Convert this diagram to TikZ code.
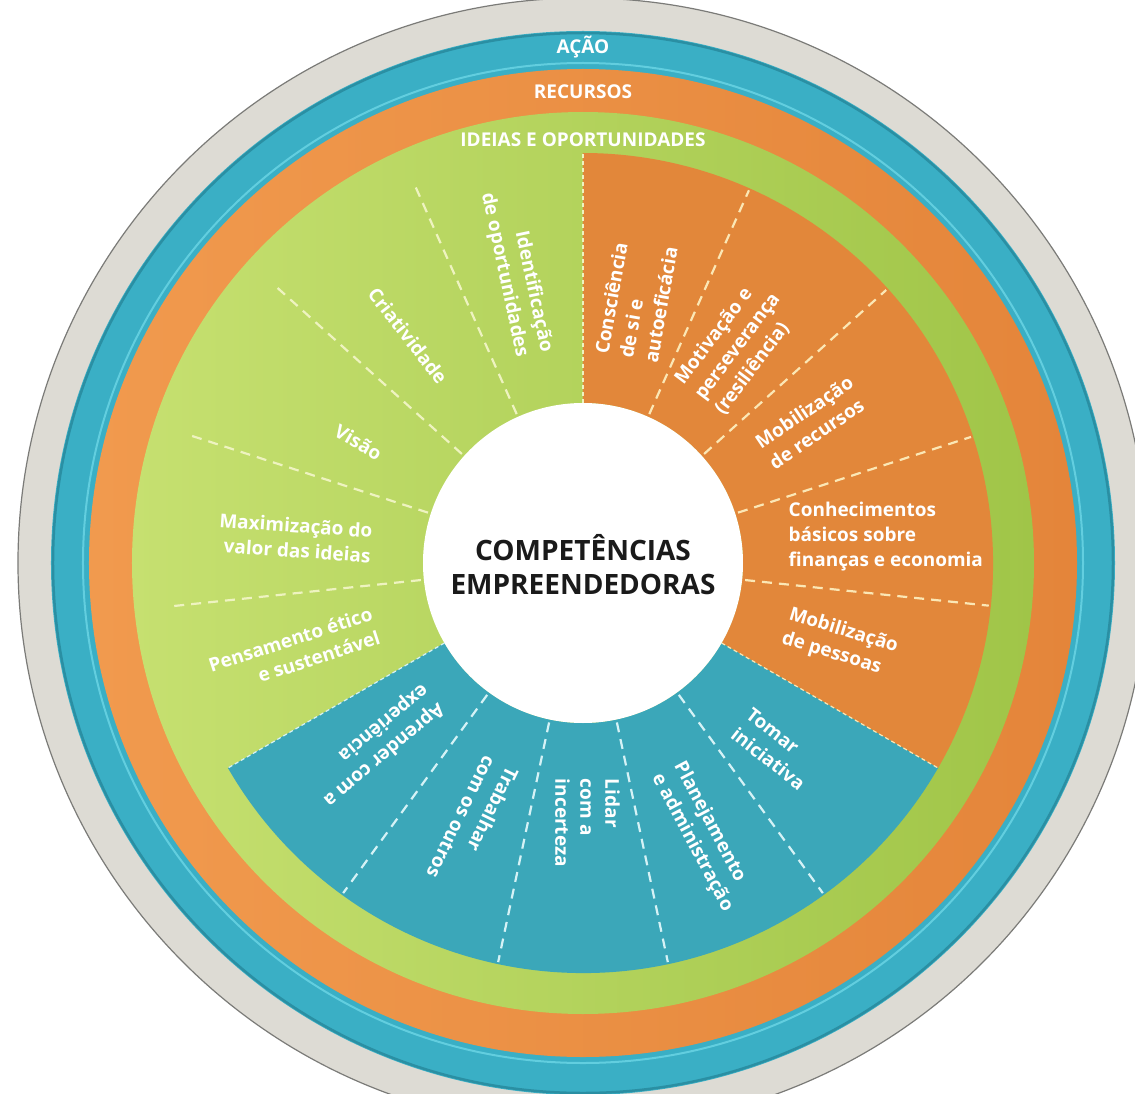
\documentclass[tikz,border=0pt]{standalone}
\usepackage{fontspec}
\setmainfont{Open Sans}
\definecolor{ringgray}{HTML}{DDDBD4}
\definecolor{ringgrayedge}{HTML}{7B7B78}
\definecolor{ringteal}{HTML}{3AAFC5}
\definecolor{ringtealhi}{HTML}{62CEDF}
\definecolor{ringtealdark}{HTML}{2A8FA3}
\definecolor{orangeL}{HTML}{F19A4E}
\definecolor{orangeR}{HTML}{E4853A}
\definecolor{greenL}{HTML}{C6E070}
\definecolor{greenR}{HTML}{A0C548}
\definecolor{secorange}{HTML}{E2873A}
\definecolor{secteal}{HTML}{3BA7B9}
\definecolor{dashgreen}{HTML}{EEF3C0}
\definecolor{dashorange}{HTML}{FBE7B5}
\definecolor{dashteal}{HTML}{D5F2F6}
\definecolor{centertext}{HTML}{1A1A1A}
\begin{document}
\begin{tikzpicture}[
  lbl/.style={text=white, font=\bfseries\fontsize{19}{25}\selectfont, inner sep=0pt},
  lblL/.style={lbl, align=left},
  lblR/.style={lbl, align=right},
  ringlbl/.style={text=white, font=\bfseries\fontsize{19}{22}\selectfont, inner sep=0pt},
  divline/.style={line width=2.2pt, dash pattern=on 10pt off 7pt},
  bordline/.style={line width=1.2pt, dash pattern=on 4pt off 3pt},
]
\useasboundingbox (-583pt,-530pt) rectangle (552pt,563pt);
\fill[white] (-583pt,-530pt) rectangle (552pt,563pt);

% outer rings
\fill[ringgray] (0,0) circle[radius=565pt];
\draw[ringgrayedge, line width=1.2pt] (0,0) circle[radius=565pt];
\fill[ringteal] (0,0) circle[radius=532pt];
\draw[ringtealdark, line width=2.5pt] (0,0) circle[radius=530pt];
\draw[ringtealhi, line width=2pt] (0,0) circle[radius=500pt];
\shade[left color=orangeL, right color=orangeR] (0,0) circle[radius=494pt];
\shade[left color=greenL, right color=greenR] (0,0) circle[radius=451pt];

% sectors
\fill[secorange] (90:160pt) arc[start angle=90, end angle=-30, radius=160pt]
  -- (-30:410pt) arc[start angle=-30, end angle=90, radius=410pt] -- cycle;
\fill[secteal] (-30:160pt) arc[start angle=-30, end angle=-150, radius=160pt]
  -- (-150:410pt) arc[start angle=-150, end angle=-30, radius=410pt] -- cycle;

% borders between the three groups
\draw[bordline, dashgreen] (90:160pt) -- (90:410pt);
\draw[bordline, dashorange] (-30:160pt) -- (-30:410pt);
\draw[bordline, dashteal] (-150:160pt) -- (-150:410pt);

% dividers
\foreach \a in {114,138,162,186}
  \draw[divline, dashgreen] (\a:163pt) -- (\a:414pt);
\foreach \a in {-6,18,42,66}
  \draw[divline, dashorange] (\a:163pt) -- (\a:408pt);
\foreach \a in {-54,-78,-102,-126}
  \draw[divline, dashteal] (\a:163pt) -- (\a:408pt);

% center
\fill[white] (0,0) circle[radius=160pt];
\node[text=centertext, font=\bfseries\fontsize{28}{34}\selectfont, align=center] (center) at (0,-2pt)
  {COMPETÊNCIAS\\EMPREENDEDORAS};

% ring labels
\node[ringlbl] (acao) at (0,516pt) {AÇÃO};
\node[ringlbl] (recursos) at (0,471pt) {RECURSOS};
\node[ringlbl] (ideias) at (0,423pt) {IDEIAS E OPORTUNIDADES};

% green group (reading inward)
\node[lblR, rotate=-78] (g1) at (102.9:298pt) {Identificação\\de oportunidades};
\node[lblR, rotate=-52] (g2) at (127.6:287pt) {Criatividade};
\node[lblR, rotate=-30] (g3) at (151.7:255pt) {Visão};
\node[lblR, rotate=-4]  (g4) at (175:289pt) {Maximização do\\valor das ideias};
\node[lblR, rotate=18]  (g5) at (197:302pt) {Pensamento ético\\e sustentável};

% orange group (reading outward)
\node[lblL, rotate=80] (o1) at (78.6:268pt) {Consciência\\de si e\\autoeficácia};
\node[lblL, rotate=53] (o2) at (54.5:266pt) {Motivação e\\perseverança\\(resiliência)};
\node[lblL, rotate=34] (o3) at (31.7:268pt) {Mobilização\\de recursos};
\node[lblL, rotate=0]  (o4) at (5:304pt) {Conhecimentos\\básicos sobre\\finanças e economia};
\node[lblL, rotate=-17] (o5) at (-17.3:269pt) {Mobilização\\de pessoas};

% teal group (reading outward)
\node[lblL, rotate=-38] (t1) at (-44:268pt) {Tomar\\iniciativa};
\node[lblL, rotate=-62] (t2) at (-66.3:299pt) {Planejamento\\e administração};
\node[lblL, rotate=-90] (t3) at (-89:260pt) {Lidar\\com a\\incerteza};
\node[lblL, rotate=-116] (t4) at (-113:282pt) {Trabalhar\\com os outros};
\node[lblL, rotate=-140] (t5) at (-138.8:276pt) {Aprender com a\\experiência};
\end{tikzpicture}
\end{document}
